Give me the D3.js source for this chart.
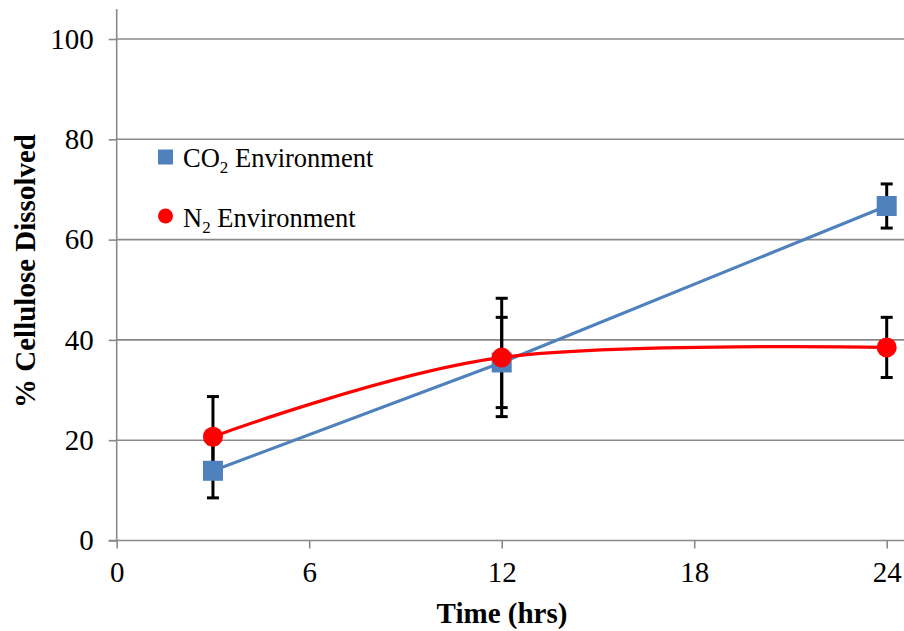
<!DOCTYPE html>
<html>
<head>
<meta charset="utf-8">
<script src="https://cdn.jsdelivr.net/npm/d3@7"></script>
<style>
  html, body { margin: 0; padding: 0; background: #fff; }
  svg { display: block; }
  text { font-family: "Liberation Serif", "Times New Roman", serif; fill: #000; }
</style>
</head>
<body>
<svg id="chart" width="904" height="631" font-family="Liberation Serif"></svg>
<script>
const hours = [3, 12, 24];
const co2Values = [13.9, 35.5, 66.7];
const co2Errors = [5.4, 9.0, 4.4];
const n2Values = [20.7, 36.5, 38.5];
const n2Errors = [8.0, 11.8, 6.0];
const xTicks = [0, 6, 12, 18, 24];
const yTicks = [0, 20, 40, 60, 80, 100];
const seriesNames = ["CO2", "N2"];

const FONT = "Liberation Serif";
const svg = d3.select("#chart");
const x = d3.scaleLinear().domain([0, 24]).range([116.7, 886.7]);
const y = d3.scaleLinear().domain([0, 100]).range([540.5, 39]);

const gridColor = "#898989";

// gridlines
svg.append("g").selectAll("line").data(yTicks.filter(d => d > 0)).join("line")
  .attr("x1", x(0)).attr("x2", 904)
  .attr("y1", d => y(d)).attr("y2", d => y(d))
  .attr("stroke", gridColor).attr("stroke-width", 1.6);

// y axis
const yAxis = d3.axisLeft(y).tickValues(yTicks).tickSize(8).tickPadding(15).tickFormat(d3.format("d"));
const gy = svg.append("g").attr("transform", `translate(${x(0)},0)`).call(yAxis);
gy.attr("font-family", FONT);
gy.select(".domain").remove();
gy.selectAll(".tick line").attr("stroke", gridColor).attr("stroke-width", 1.6);
gy.selectAll(".tick text").attr("font-size", 29).attr("font-family", FONT).attr("fill", "#000");
svg.append("line").attr("x1", x(0)).attr("x2", x(0)).attr("y1", 9).attr("y2", y(0) + 0.8)
  .attr("stroke", gridColor).attr("stroke-width", 1.6);

// x axis
const xAxis = d3.axisBottom(x).tickValues(xTicks).tickSize(8).tickPadding(13).tickFormat(d3.format("d"));
const gx = svg.append("g").attr("transform", `translate(0,${y(0)})`).call(xAxis);
gx.attr("font-family", FONT);
gx.select(".domain").remove();
gx.selectAll(".tick line").attr("stroke", gridColor).attr("stroke-width", 1.6);
gx.selectAll(".tick text").attr("font-size", 29).attr("font-family", FONT).attr("fill", "#000");
svg.append("line").attr("x1", x(0) - 8).attr("x2", 904).attr("y1", y(0)).attr("y2", y(0))
  .attr("stroke", gridColor).attr("stroke-width", 1.6);

// axis titles
svg.append("text").attr("x", 502).attr("y", 623).attr("text-anchor", "middle")
  .attr("font-family", FONT).attr("font-size", 29).attr("font-weight", "bold").text("Time (hrs)");
svg.append("text").attr("transform", "translate(35,271) rotate(-90)").attr("text-anchor", "middle")
  .attr("font-family", FONT).attr("font-size", 29).attr("font-weight", "bold").text("% Cellulose Dissolved");

const co2 = hours.map((h, i) => ({ h, v: co2Values[i], e: co2Errors[i] }));
const n2 = hours.map((h, i) => ({ h, v: n2Values[i], e: n2Errors[i] }));

// error bars
function errorBars(data) {
  const g = svg.append("g");
  data.forEach(d => {
    g.append("line").attr("x1", x(d.h)).attr("x2", x(d.h))
      .attr("y1", y(d.v - d.e)).attr("y2", y(d.v + d.e))
      .attr("stroke", "#000").attr("stroke-width", 3);
    [d.v - d.e, d.v + d.e].forEach(t => {
      g.append("line").attr("x1", x(d.h) - 6).attr("x2", x(d.h) + 6)
        .attr("y1", y(t)).attr("y2", y(t))
        .attr("stroke", "#000").attr("stroke-width", 3);
    });
  });
}
errorBars(co2);
errorBars(n2);

const blue = "#4F81BD", red = "#FF0000";

// CO2 line
svg.append("path").datum(co2)
  .attr("d", d3.line().x(d => x(d.h)).y(d => y(d.v)))
  .attr("fill", "none").attr("stroke", blue).attr("stroke-width", 3.2);
svg.append("g").selectAll("rect").data(co2).join("rect")
  .attr("x", d => x(d.h) - 10).attr("y", d => y(d.v) - 10)
  .attr("width", 20).attr("height", 20).attr("fill", blue);

// N2 smooth line (Excel-style smoothing)
svg.append("path").datum(n2)
  .attr("d", d3.line().x(d => x(d.h)).y(d => y(d.v)).curve(d3.curveCardinal.tension(0)))
  .attr("fill", "none").attr("stroke", red).attr("stroke-width", 3.2);
svg.append("g").selectAll("circle").data(n2).join("circle")
  .attr("cx", d => x(d.h)).attr("cy", d => y(d.v)).attr("r", 10).attr("fill", red);

// legend
const lg = svg.append("g");
lg.append("rect").attr("x", 158).attr("y", 149.5).attr("width", 15).attr("height", 15).attr("fill", blue);
const t1 = lg.append("text").attr("x", 183).attr("y", 166.5).attr("font-family", FONT).attr("font-size", 26.5);
t1.append("tspan").text("CO");
t1.append("tspan").attr("font-size", 17).attr("dy", 6).text("2");
t1.append("tspan").attr("dy", -6).text(" Environment");
lg.append("circle").attr("cx", 165.5).attr("cy", 216).attr("r", 7.5).attr("fill", red);
const t2 = lg.append("text").attr("x", 183).attr("y", 227).attr("font-family", FONT).attr("font-size", 26.5);
t2.append("tspan").text("N");
t2.append("tspan").attr("font-size", 17).attr("dy", 6).text("2");
t2.append("tspan").attr("dy", -6).text(" Environment");
</script>
</body>
</html>
